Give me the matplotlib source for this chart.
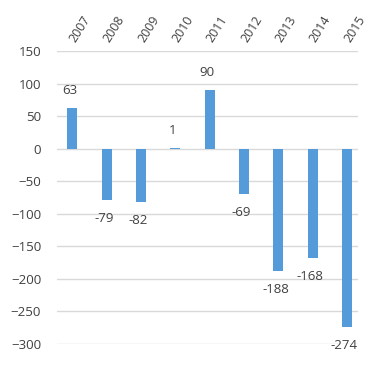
import matplotlib
matplotlib.use('Agg')
import matplotlib.pyplot as plt

years  = ['2007', '2008', '2009', '2010', '2011', '2012', '2013', '2014', '2015']
values = [63, -79, -82, 1, 90, -69, -188, -168, -274]
yticks = [150, 100, 50, 0, -50, -100, -150, -200, -250, -300]

plt.rcParams['font.family'] = ['Open Sans', 'DejaVu Sans']
txt = '#404040'
fs = 9.5

fig = plt.figure(figsize=(3.81, 3.71), dpi=100)
ax = fig.add_axes([0.15, 0.0728, 0.79, 0.7897])

x = range(len(years))
ax.bar(x, values, width=0.29, color='#559BDA', zorder=3)

# data labels: above positive bars, below negative ones
for i, v in enumerate(values):
    off = 12.5 if v >= 0 else -13.5
    ax.annotate(str(v), (i, v), xytext=(-2, off), textcoords='offset points',
                ha='center', va='center', fontsize=fs, color=txt,
                annotation_clip=False)

ax.set_ylim(-300, 150)
ax.set_xlim(-0.44, 8.32)
ax.set_yticks(yticks)
ax.yaxis.grid(True, color='#D9D9D9', linewidth=1)
ax.set_axisbelow(True)

ax.xaxis.tick_top()
ax.set_xticks(list(x))
ax.set_xticklabels(years, rotation=58, ha='left', va='center',
                   rotation_mode='anchor', fontsize=9, color=txt)
ax.tick_params(axis='both', length=0, colors=txt)
ax.tick_params(axis='y', labelsize=fs, pad=11.5)
ax.tick_params(axis='x', pad=7)

for s in ax.spines.values():
    s.set_visible(False)

plt.savefig('out.png', dpi=100)
plt.close()
